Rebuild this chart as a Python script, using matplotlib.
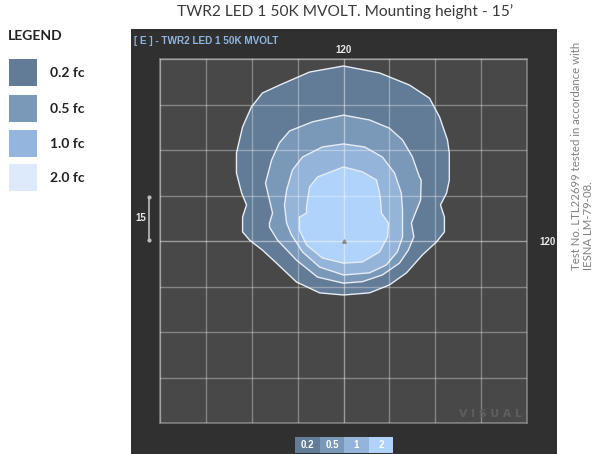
import matplotlib
matplotlib.use("Agg")
import matplotlib.pyplot as plt
from matplotlib.patches import Rectangle, Polygon
import numpy as np

# ---------------- data (feet, luminaire at origin) ----------------
levels = ["0.2 fc", "0.5 fc", "1.0 fc", "2.0 fc"]
short_levels = ["0.2", "0.5", "1", "2"]
level_colors = ["#627b96", "#7a98b8", "#94b4d9", "#afd3fb"]
legend_colors = ["#627b96", "#7a98b8", "#94b5de", "#ddeafc"]

x_02 = [0, 11.8, 21.6, 28.1, 31.4, 34.0, 34.6, 34.6, 33.7, 31.7, 33.0, 33.0, 30.4, 25.8,
        20.6, 15.0, 8.5, 0, -7.8, -15.4, -21.9, -26.5, -30.7, -33.0, -33.0, -31.7, -33.3,
        -35.0, -35.0, -33.0, -30.1, -26.5, -20.9, -11.1]
y_02 = [57.7, 55.4, 51.4, 47.1, 40.9, 33.3, 29.0, 20.1, 15.8, 11.9, 7.9, 3.0, -0.3, -4.6,
        -10.5, -14.5, -17.1, -17.8, -17.1, -13.5, -7.3, -3.0, 0.3, 3.0, 7.9, 11.9, 15.8,
        22.4, 29.0, 37.6, 44.2, 48.8, 51.4, 55.7]

x_05 = [0, 8.5, 15.0, 19.3, 22.5, 24.8, 25.4, 25.2, 23.5, 22.2, 23.0, 21.2, 18.3, 12.7,
        6.2, 0, -8.5, -15.4, -21.6, -24.2, -24.2, -23.2, -24.2, -25.5, -23.5, -21.0,
        -17.6, -10.1]
y_05 = [41.5, 39.9, 37.2, 33.3, 27.8, 21.2, 20.1, 13.5, 9.2, 5.9, 1.4, -3.0, -7.3, -11.2,
        -13.4, -13.9, -11.9, -6.3, 0.3, 4.6, 5.9, 9.2, 13.5, 19.1, 26.7, 32.3, 36.3, 39.3]

x_10 = [0, 6.9, 12.7, 16.7, 18.9, 19.3, 19.3, 19.3, 17.6, 14.0, 8.5, 0, -7.8, -13.4,
        -17.0, -18.6, -19.3, -18.6, -16.7, -13.4, -6.9]
y_10 = [32.0, 31.0, 27.7, 22.4, 15.8, 10.2, 6.9, 1.3, -3.6, -7.9, -10.5, -11.2, -8.6,
        -3.6, 2.0, 5.9, 11.9, 16.8, 23.4, 27.7, 31.0]

x_20 = [0, 6.2, 10.8, 11.8, 12.1, 12.4, 14.7, 14.4, 11.8, 6.2, 0, -6.9, -12.1, -14.4,
        -14.4, -12.1, -12.1, -11.1, -8.5]
y_20 = [24.4, 22.8, 20.1, 15.8, 13.5, 9.2, 5.9, 1.3, -3.6, -6.9, -7.3, -5.6, -1.3, 3.6,
        7.9, 9.2, 11.2, 17.8, 21.1]

contours = [(x_02, y_02), (x_05, y_05), (x_10, y_10), (x_20, y_20)]

grid_ticks = [-60, -45, -30, -15, 0, 15, 30, 45, 60]

title = "TWR2 LED 1 50K MVOLT. Mounting height - 15\u2019"
header = "[ E ] - TWR2 LED 1 50K MVOLT"
note1 = "Test No. LTL22699 tested in accordance with"
note2 = "IESNA LM-79-08."

# ---------------- figure ----------------
W, H = 602, 454
fig = plt.figure(figsize=(W / 100, H / 100), dpi=100)
fig.patch.set_facecolor("white")

def fx(px):
    return px / W

def fy(py):
    return 1 - py / H

# dark panel
fig.patches.append(Rectangle((fx(131), fy(454)), fx(557) - fx(131), fy(29) - fy(454),
                             transform=fig.transFigure, facecolor="#303030",
                             edgecolor="none", zorder=-5))

ax = fig.add_axes([fx(160), fy(423), fx(527) - fx(160), fy(59) - fy(423)])
ax.set_zorder(2)
ax.set_facecolor("#484848")
ax.set_xlim(-60, 60)
ax.set_ylim(-60, 60)
for s in ax.spines.values():
    s.set_color("#7c7c7c")
    s.set_linewidth(1.2)
ax.set_xticks([])
ax.set_yticks([])

for (xs, ys), c in zip(contours, level_colors):
    ax.add_patch(Polygon(np.column_stack([xs, ys]), closed=True, facecolor=c,
                         edgecolor="#e6edf5", linewidth=1.0, joinstyle="round", zorder=2))

for t in grid_ticks:
    a = 0.45 if t == 0 else 0.33
    ax.axvline(t, color="white", alpha=a, lw=1.0, zorder=3)
    ax.axhline(t, color="white", alpha=a, lw=1.0, zorder=3)

ax.plot([0], [0], marker="^", ms=2.5, color="#8a8a8a", zorder=4)

ax.text(0.985, 0.012, "V I S U A L", transform=ax.transAxes, ha="right", va="bottom",
        fontsize=7.8, fontweight="bold", color="#5e5e5e", family="DejaVu Sans",
        zorder=4)

# title & header
fig.text(fx(345), fy(12), title, ha="center", va="center", fontsize=11.2,
         color="#3a3a3a", family="Lato")
fig.text(fx(134), fy(41), header, ha="left", va="center", fontsize=7.2,
         fontweight="bold", color="#8fb4de", family="Liberation Sans")
fig.text(fx(344), fy(50), "120", ha="center", va="center", fontsize=7,
         fontweight="bold", color="#e8e8e8", family="Liberation Sans")
fig.text(fx(547), fy(242), "120", ha="center", va="center", fontsize=7,
         fontweight="bold", color="#e8e8e8", family="Liberation Sans")
fig.text(fx(141), fy(218), "15", ha="center", va="center", fontsize=7,
         fontweight="bold", color="#e8e8e8", family="Liberation Sans")
fig.add_artist(plt.Line2D([fx(149), fx(149)], [fy(197), fy(240)], color="#bdbdbd",
                          lw=1.2, marker="o", ms=2, markevery=[0, 1]))

# left legend
fig.text(fx(8), fy(36), "LEGEND", ha="left", va="center", fontsize=10,
         fontweight="bold", color="#222222", family="Lato")
legend_tops = [59, 95, 130, 164]
for lab, c, top in zip(levels, legend_colors, legend_tops):
    fig.patches.append(Rectangle((fx(9), fy(top + 27)), fx(37) - fx(9), fy(top) - fy(top + 27),
                                 transform=fig.transFigure, facecolor=c, edgecolor="none"))
    fig.text(fx(50), fy(top + 14), lab, ha="left", va="center", fontsize=10,
             fontweight="bold", color="#222222", family="Lato")

# bottom legend
box_edges = [295, 320, 344, 369, 393]
for i, (lab, c) in enumerate(zip(short_levels, level_colors)):
    x0, x1 = box_edges[i], box_edges[i + 1]
    fig.patches.append(Rectangle((fx(x0), fy(453)), fx(x1) - fx(x0), fy(437) - fy(453),
                                 transform=fig.transFigure, facecolor=c, edgecolor="none"))
    fig.text(fx((x0 + x1) / 2), fy(445), lab, ha="center", va="center", fontsize=7,
             fontweight="bold", color="white", family="Liberation Sans")

# right note
fig.text(fx(577), fy(270), note1, rotation=90, ha="left", va="center", fontsize=8.2,
         color="#808080", family="Lato", rotation_mode="anchor")
fig.text(fx(588), fy(270), note2, rotation=90, ha="left", va="center", fontsize=8.2,
         color="#808080", family="Lato", rotation_mode="anchor")

fig.savefig("out.png", dpi=100, facecolor=fig.get_facecolor())
